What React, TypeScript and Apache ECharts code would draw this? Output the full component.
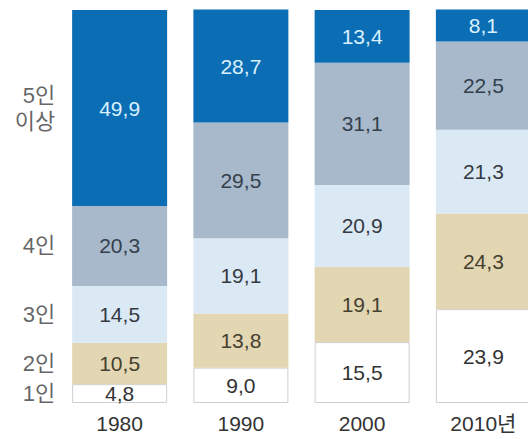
import React, { useEffect, useRef } from "react";
import * as echarts from "echarts";

const years = ["1980", "1990", "2000", "2010년"];
const groupNames = ["1인", "2인", "3인", "4인", "5인\n이상"];
const onePerson = [4.8, 9.0, 15.5, 23.9];
const twoPerson = [10.5, 13.8, 19.1, 24.3];
const threePerson = [14.5, 19.1, 20.9, 21.3];
const fourPerson = [20.3, 29.5, 31.1, 22.5];
const fivePlus = [49.9, 28.7, 13.4, 8.1];

const seriesValues = [onePerson, twoPerson, threePerson, fourPerson, fivePlus];
const colors = ["#ffffff", "#e2d7b2", "#dbe9f5", "#a7b9ca", "#0b6db3"];
const labelColors = ["#333333", "#454030", "#353a42", "#34404c", "#d9f1ff"];

const FONT = "'Liberation Sans', 'Noto Sans CJK KR', sans-serif";

export default function App() {
  const ref = useRef<HTMLDivElement>(null);
  useEffect(() => {
    document.body.style.margin = "0";
    const chart = echarts.init(ref.current!, undefined, { renderer: "svg" });

    // midpoints of the 1980 bar segments for the row labels
    let cum = 0;
    const mids: number[] = seriesValues.map((arr) => {
      const m = cum + arr[0] / 2;
      cum += arr[0];
      return m;
    });

    const barSeries = seriesValues.map((arr, i) => ({
      type: "bar",
      name: groupNames[i],
      stack: "total",
      data: arr,
      barWidth: 95,
      clip: false,
      itemStyle: {
        color: colors[i],
        borderColor: i === 0 ? "#cfcfcf" : colors[i],
        borderWidth: i === 0 ? 1 : 0,
      },
      label: {
        show: true,
        position: "inside",
        formatter: (p: any) => p.value.toFixed(1).replace(".", ","),
        color: labelColors[i],
        fontSize: 21,
        fontFamily: FONT,
      },
    }));

    const rowLabelSeries = {
      type: "scatter",
      symbolSize: 1,
      itemStyle: { color: "rgba(0,0,0,0)" },
      data: mids.map((m, i) => ({ value: [0, m], name: groupNames[i] })),
      label: {
        show: true,
        position: "left",
        distance: 64,
        align: "right",
        formatter: (p: any) => p.name,
        color: "#3c3c3c",
        fontSize: 22,
        lineHeight: 26,
        fontFamily: FONT,
      },
      silent: true,
    };

    chart.setOption({
      animation: false,
      backgroundColor: "#ffffff",
      grid: { left: 59, right: 0, top: 10, bottom: 36 },
      xAxis: {
        type: "category",
        data: years,
        axisLine: { show: false },
        axisTick: { show: false },
        axisLabel: {
          color: "#333333",
          fontSize: 21,
          fontFamily: FONT,
          margin: 10,
        },
      },
      yAxis: {
        type: "value",
        min: 0,
        max: 100,
        show: false,
      },
      series: [...barSeries, rowLabelSeries],
    });
    return () => chart.dispose();
  }, []);
  return (
    <div
      style={{ position: "absolute", left: 0, top: 0, width: 528, height: 439, overflow: "hidden", background: "#fff" }}
    >
      <div ref={ref} style={{ width: 544, height: 439 }} />
    </div>
  );
}
